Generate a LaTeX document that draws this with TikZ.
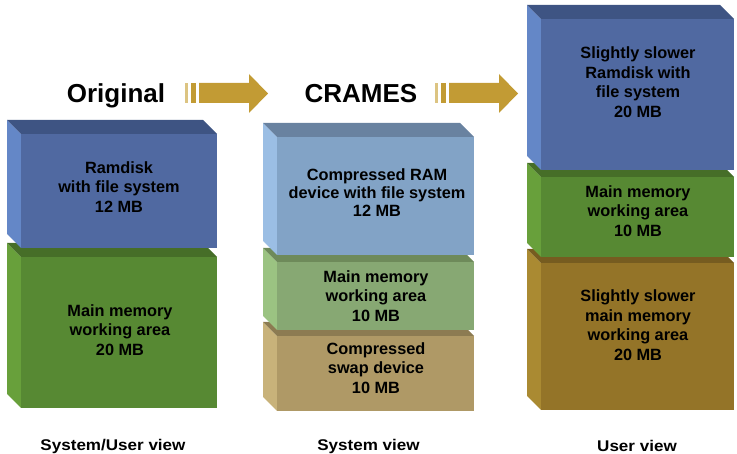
\documentclass[tikz,border=0pt]{standalone}
\usepackage{fontspec}
\setmainfont{Liberation Sans}
\usetikzlibrary{calc}

% face colours: front / left side / top
\definecolor{blueF}{RGB}{80,105,161}
\definecolor{blueS}{RGB}{100,135,199}
\definecolor{blueT}{RGB}{62,84,131}
\definecolor{greenF}{RGB}{87,137,51}
\definecolor{greenS}{RGB}{104,160,59}
\definecolor{greenT}{RGB}{70,110,40}
\definecolor{lblueF}{RGB}{130,163,198}
\definecolor{lblueS}{RGB}{155,190,228}
\definecolor{lblueT}{RGB}{105,130,160}
\definecolor{lgreenF}{RGB}{135,168,115}
\definecolor{lgreenS}{RGB}{155,195,130}
\definecolor{lgreenT}{RGB}{110,138,90}
\definecolor{tanF}{RGB}{175,153,102}
\definecolor{tanS}{RGB}{200,178,122}
\definecolor{tanT}{RGB}{140,123,82}
\definecolor{brownF}{RGB}{148,116,40}
\definecolor{brownS}{RGB}{170,138,50}
\definecolor{brownT}{RGB}{118,92,32}
\definecolor{arrowgold}{RGB}{194,155,52}
\definecolor{arrowpale}{RGB}{220,196,130}

% bevelled slab: #1 x0, #2 x1, #3 y0 (top), #4 y1 (bottom), #5 colour prefix
\newcommand\memslab[5]{%
  \fill[#5S] (#1,#3) -- (#1+14,#3+14) -- (#1+14,#4) -- (#1,#4-14) -- cycle;
  \fill[#5T] (#1,#3) -- (#2-14,#3) -- (#2,#3+14) -- (#1+14,#3+14) -- cycle;
  \fill[#5F] (#1+14,#3+14) rectangle (#2,#4);
}

% block arrow with two lead-in bars, #1 = horizontal offset
\newcommand\goldarrow[1]{%
  \fill[arrowpale] (#1+185,83) rectangle (#1+187.5,103);
  \fill[arrowgold] (#1+191,83) rectangle (#1+196,103);
  \fill[arrowgold] (#1+199,83) -- (#1+249,83) -- (#1+249,74) -- (#1+268,93.5)
                   -- (#1+249,113) -- (#1+249,103) -- (#1+199,103) -- cycle;
}

\tikzset{
  slabtext/.style={align=center, inner sep=0pt,
    font=\fontsize{16.3}{19.5}\selectfont\bfseries},
  titletext/.style={anchor=base, inner sep=0pt,
    font=\fontsize{26}{30}\selectfont\bfseries},
  viewtext/.style={anchor=base, inner sep=0pt,
    font=\fontsize{15.5}{18}\selectfont\bfseries},
}

\begin{document}
\begin{tikzpicture}[x=1pt, y=-1pt]
\useasboundingbox (0,0) rectangle (737,454);

% left stack
\memslab{7}{217}{243}{408}{green}
\memslab{7}{217}{120}{248}{blue}
% middle stack
\memslab{263}{474}{322}{411}{tan}
\memslab{263}{474}{248}{330}{lgreen}
\memslab{263}{474}{123}{255}{lblue}
% right stack
\memslab{527}{734}{249}{410}{brown}
\memslab{527}{734}{163}{257}{green}
\memslab{527}{734}{5}{170}{blue}

\goldarrow{0}
\goldarrow{250}

\node[titletext] (orig)   at (116,103) {Original};
\node[titletext] (crames) at (361,103) {CRAMES};

\node[slabtext] (ramdisk)  at (119,187) {Ramdisk\\with file system\\12 MB};
\node[slabtext] (mainA)    at (120,330) {Main memory\\working area\\20 MB};
\node[slabtext, font=\fontsize{16.3}{18}\selectfont\bfseries]
                (cramdev)  at (377,193) {Compressed RAM\\device with file system\\12 MB};
\node[slabtext] (mainB)    at (376,296) {Main memory\\working area\\10 MB};
\node[slabtext] (swapdev)  at (376,368) {Compressed\\swap device\\10 MB};
\node[slabtext] (slowdisk) at (638,82)  {Slightly slower\\Ramdisk with\\file system\\20 MB};
\node[slabtext] (mainC)    at (638,211) {Main memory\\working area\\10 MB};
\node[slabtext] (slowmain) at (638,325) {Slightly slower\\main memory\\working area\\20 MB};

\node[viewtext] (sysuser) at (113,450) {\scalebox{1.1}[1]{System/User view}};
\node[viewtext] (sysview) at (368.5,450) {\scalebox{1.1}[1]{System view}};
\node[viewtext] (userview) at (637,452) {\scalebox{1.1}[1]{User view}};
\end{tikzpicture}
\end{document}
